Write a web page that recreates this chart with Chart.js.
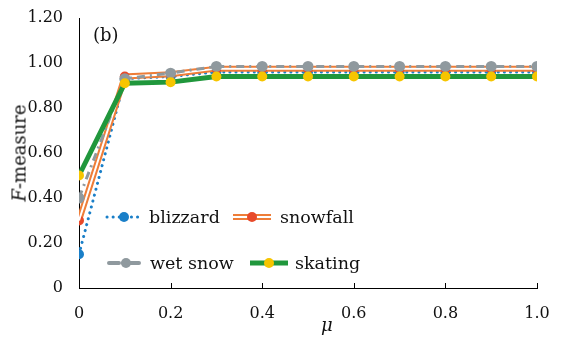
<!DOCTYPE html>
<html>
<head>
<meta charset="utf-8">
<script src="https://cdn.jsdelivr.net/npm/chart.js@4/dist/chart.umd.min.js"></script>
<style>
  body { margin: 0; background: #fff; }
  #wrap { position: relative; width: 564px; height: 346px; font-family: "DejaVu Serif", serif; }
  #ytitle { position: absolute; left: 19px; top: 153px; transform: translate(-50%, -50%) rotate(-90deg);
    font-size: 18px; white-space: nowrap; color: #111; }
  #xtitle { position: absolute; left: 321px; top: 314px; font-size: 18px; font-style: italic; color: #111; }
  #tag { position: absolute; left: 93px; top: 24px; font-size: 18px; color: #111; }
  .leg { position: absolute; display: flex; align-items: center; font-size: 17.5px; color: #111; }
  .leg svg { margin-right: 5px; }
</style>
</head>
<body>
<div id="wrap">
  <canvas id="chart" width="564" height="346"></canvas>
  <div id="ytitle"><i>F</i>-measure</div>
  <div id="xtitle">μ</div>
  <div id="tag">(b)</div>
  <div class="leg" style="left:104px; top:207px;">
    <svg width="40" height="14"><line x1="3" y1="7" x2="38" y2="7" stroke="#1a7fc8" stroke-width="3" stroke-dasharray="0.1 6" stroke-linecap="round"/><circle cx="20" cy="7" r="5" fill="#1a7fc8"/></svg>blizzard</div>
  <div class="leg" style="left:231px; top:207px;">
    <svg width="44" height="14"><line x1="2" y1="7" x2="40" y2="7" stroke="#ee7d38" stroke-width="6"/><line x1="2" y1="7" x2="40" y2="7" stroke="#fff" stroke-width="2"/><circle cx="21" cy="7" r="5" fill="#e84a2a"/></svg>snowfall</div>
  <div class="leg" style="left:107px; top:253px;">
    <svg width="38" height="14"><line x1="2" y1="7" x2="36" y2="7" stroke="#8f999e" stroke-width="4" stroke-dasharray="10 4 2 4" stroke-linecap="round"/><circle cx="19" cy="7" r="5" fill="#8f999e"/></svg>wet snow</div>
  <div class="leg" style="left:248px; top:253px;">
    <svg width="42" height="14"><line x1="2" y1="7" x2="40" y2="7" stroke="#20973c" stroke-width="5"/><circle cx="21" cy="7" r="5" fill="#f6c500"/></svg>skating</div>
</div>
<script>
// values
const mu = [0, 0.1, 0.2, 0.3, 0.4, 0.5, 0.6, 0.7, 0.8, 0.9, 1.0];
const blizzard = [0.15, 0.93, 0.94, 0.96, 0.96, 0.96, 0.96, 0.96, 0.96, 0.96, 0.96];
const snowfall = [0.30, 0.94, 0.95, 0.975, 0.975, 0.975, 0.975, 0.975, 0.975, 0.975, 0.975];
const wetSnow = [0.40, 0.93, 0.955, 0.985, 0.985, 0.985, 0.985, 0.985, 0.985, 0.985, 0.985];
const skating = [0.50, 0.91, 0.915, 0.94, 0.94, 0.94, 0.94, 0.94, 0.94, 0.94, 0.94];
const xTicks = [0, 0.2, 0.4, 0.6, 0.8, 1.0];

const pts = arr => arr.map((v, i) => ({ x: mu[i], y: v }));

// small tick marks pointing up into the plot
const innerTicks = {
  id: 'innerTicks',
  afterDraw(chart) {
    const { ctx, scales: { x, y } } = chart;
    ctx.save();
    ctx.strokeStyle = '#000';
    ctx.lineWidth = 1;
    xTicks.forEach(t => {
      const px = Math.round(x.getPixelForValue(t)) + 0.5;
      ctx.beginPath();
      ctx.moveTo(px, y.bottom);
      ctx.lineTo(px, y.bottom - 5);
      ctx.stroke();
    });
    ctx.restore();
  }
};

const tickFont = { family: 'DejaVu Serif', size: 16 };

new Chart(document.getElementById('chart'), {
  type: 'line',
  data: {
    datasets: [
      { data: pts(skating), borderColor: '#20973c', borderWidth: 5, pointBackgroundColor: '#f6c500',
        pointBorderWidth: 0, pointRadius: 5, order: 1 },
      { data: pts(wetSnow), borderColor: '#8f999e', borderWidth: 3, borderDash: [8, 5, 2, 5],
        pointBackgroundColor: '#8f999e', pointBorderWidth: 0, pointRadius: 5.5, order: 2 },
      { data: pts(snowfall), borderColor: '#fff', borderWidth: 2, pointRadius: 0, order: 3 },
      { data: pts(snowfall), borderColor: '#ee7d38', borderWidth: 6, pointBackgroundColor: '#e84a2a',
        pointBorderWidth: 0, pointRadius: 5, order: 4 },
      { data: pts(blizzard), borderColor: '#1a7fc8', borderWidth: 3, borderDash: [0.1, 6], borderCapStyle: 'round',
        pointBackgroundColor: '#1a7fc8', pointBorderWidth: 0, pointRadius: 5, order: 5 }
    ]
  },
  options: {
    responsive: false,
    animation: false,
    layout: { padding: { top: 18, right: 27, left: 0, bottom: 0 } },
    plugins: { legend: { display: false }, tooltip: { enabled: false } },
    scales: {
      x: {
        type: 'linear', min: 0, max: 1,
        afterBuildTicks: s => { s.ticks = xTicks.map(v => ({ value: v })); },
        afterFit: s => { s.height = 58; },
        grid: { display: false },
        border: { color: '#000', width: 1 },
        ticks: { color: '#111', font: tickFont, padding: 8,
          callback: v => v === 0 ? '0' : v.toFixed(1) }
      },
      y: {
        min: 0, max: 1.2,
        ticks: { stepSize: 0.2, color: '#111', font: tickFont, padding: 8,
          callback: v => v === 0 ? '0' : v.toFixed(2) },
        afterFit: s => { s.width = 79; },
        grid: { display: false },
        border: { color: '#000', width: 1 }
      }
    }
  },
  plugins: [innerTicks]
});
</script>
</body>
</html>
